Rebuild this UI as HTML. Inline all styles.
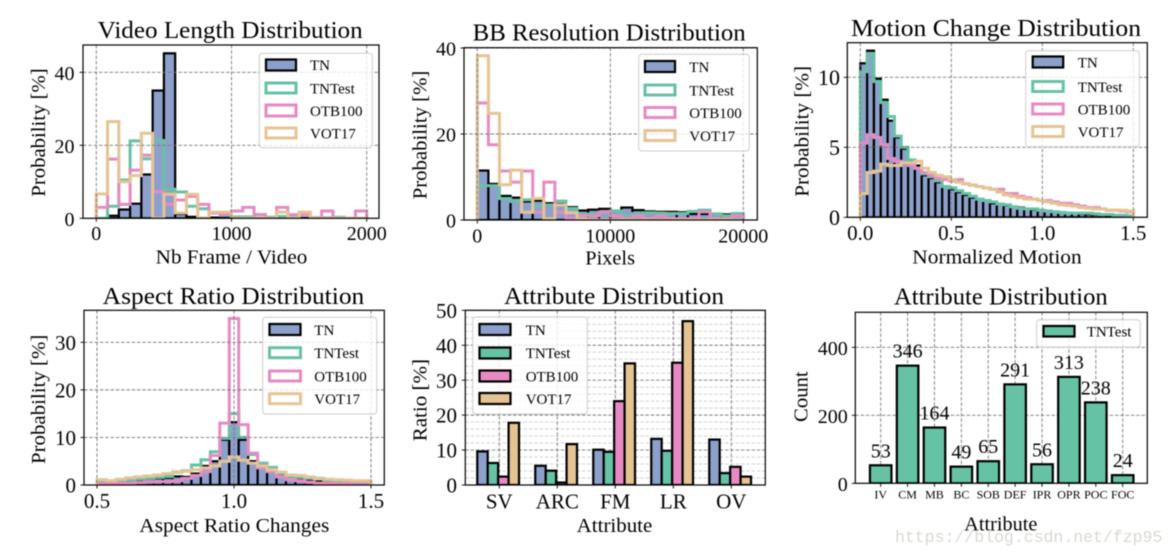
<!DOCTYPE html>
<html lang="en">
<head>
<meta charset="utf-8">
<title>Dataset distribution charts</title>
<style>
html,body{margin:0;padding:0;background:#fff;width:1175px;height:556px;overflow:hidden}
svg{display:block;font-family:"Liberation Serif",serif;fill:#000;filter:blur(.45px)}
.frame{fill:none;stroke:#000;stroke-width:1.2}
.lg-box{fill:#fff;fill-opacity:.8;stroke:#ccc;stroke-width:1}
.lg-text{font-size:15px;fill:#000}
.title{font-size:24px}
.axis-label{font-size:19.5px}
.p-tn{fill:#8da0cb;stroke:#000;stroke-width:2.2}
.p-tnt{fill:none;stroke:#66c2a5;stroke-width:3}
.p-otb{fill:none;stroke:#e78ac3;stroke-width:3}
.p-vot{fill:none;stroke:#e5c494;stroke-width:3}
.f-tnt{fill:#66c2a5;stroke:#000;stroke-width:2.2}
.f-otb{fill:#e78ac3;stroke:#000;stroke-width:2.2}
.f-vot{fill:#e5c494;stroke:#000;stroke-width:2.2}
.watermark{font-family:"Liberation Mono",monospace;font-size:16.5px;fill:#cfcfc6;fill-opacity:.8}
</style>
</head>
<body>
<svg id="fig" width="1175" height="556" viewBox="0 0 1175 556" xmlns="http://www.w3.org/2000/svg">
<defs>
<clipPath id="clip1"><rect x="83" y="45" width="296" height="173.3"/></clipPath>
<clipPath id="clip2"><rect x="464" y="47.7" width="293.3" height="172.3"/></clipPath>
<clipPath id="clip3"><rect x="847.3" y="42.7" width="300" height="174.6"/></clipPath>
<clipPath id="clip4"><rect x="84" y="310.3" width="300.3" height="174.7"/></clipPath>
<clipPath id="clip5"><rect x="465.3" y="310.3" width="300" height="174.7"/></clipPath>
<clipPath id="clip6"><rect x="855.3" y="312.3" width="292" height="171"/></clipPath>
</defs>

<g>
<g id="plot1" clip-path="url(#clip1)"></g>
<rect class="frame" x="83" y="45" width="296" height="173.3"/>
<g id="ticks1"></g>
<text class="title" x="97.7" y="38" textLength="265" lengthAdjust="spacingAndGlyphs">Video Length Distribution</text>
<text class="axis-label" x="155.7" y="263.3" textLength="151.6" lengthAdjust="spacingAndGlyphs">Nb Frame / Video</text>
<text class="axis-label" transform="translate(45,196.7) rotate(-90)" textLength="128.4" lengthAdjust="spacingAndGlyphs">Probability [%]</text>
<g>
<rect class="lg-box" x="259.3" y="53.3" width="113" height="94.4" rx="3"/>
<rect class="p-tn" x="266" y="59.5" width="30" height="11"/><text class="lg-text" x="310" y="70">TN</text>
<rect class="p-tnt" x="266" y="83" width="30" height="10"/><text class="lg-text" x="310" y="93.5">TNTest</text>
<rect class="p-otb" x="266" y="105" width="30" height="11"/><text class="lg-text" x="310" y="116">OTB100</text>
<rect class="p-vot" x="266" y="128" width="30" height="10"/><text class="lg-text" x="310" y="138.5">VOT17</text>
</g>
</g>

<g>
<g id="plot2" clip-path="url(#clip2)"></g>
<rect class="frame" x="464" y="47.7" width="293.3" height="172.3"/>
<g id="ticks2"></g>
<text class="title" x="472.7" y="40.7" textLength="273" lengthAdjust="spacingAndGlyphs">BB Resolution Distribution</text>
<text class="axis-label" x="585.3" y="264.3" textLength="49.7" lengthAdjust="spacingAndGlyphs">Pixels</text>
<text class="axis-label" transform="translate(426.7,199.3) rotate(-90)" textLength="128.6" lengthAdjust="spacingAndGlyphs">Probability [%]</text>
<g>
<rect class="lg-box" x="638.7" y="54.3" width="110.6" height="96.7" rx="3"/>
<rect class="p-tn" x="645" y="61" width="30" height="11"/><text class="lg-text" x="689.3" y="72">TN</text>
<rect class="p-tnt" x="645" y="85" width="30" height="10"/><text class="lg-text" x="689.3" y="95.5">TNTest</text>
<rect class="p-otb" x="645" y="107.5" width="30" height="10"/><text class="lg-text" x="689.3" y="118">OTB100</text>
<rect class="p-vot" x="645" y="130.5" width="30" height="10"/><text class="lg-text" x="689.3" y="141">VOT17</text>
</g>
</g>

<g>
<g id="plot3" clip-path="url(#clip3)"></g>
<rect class="frame" x="847.3" y="42.7" width="300" height="174.6"/>
<g id="ticks3"></g>
<text class="title" x="851" y="36" textLength="290" lengthAdjust="spacingAndGlyphs">Motion Change Distribution</text>
<text class="axis-label" x="912.3" y="263.3" textLength="169.4" lengthAdjust="spacingAndGlyphs">Normalized Motion</text>
<text class="axis-label" transform="translate(808.3,196.7) rotate(-90)" textLength="130.7" lengthAdjust="spacingAndGlyphs">Probability [%]</text>
<g>
<rect class="lg-box" x="1025.7" y="50.7" width="113.6" height="96" rx="3"/>
<rect class="p-tn" x="1032.7" y="56.5" width="30.5" height="11"/><text class="lg-text" x="1077.7" y="67.5">TN</text>
<rect class="p-tnt" x="1032.7" y="81.5" width="30.5" height="10"/><text class="lg-text" x="1077.7" y="92">TNTest</text>
<rect class="p-otb" x="1032.7" y="104" width="30.5" height="10"/><text class="lg-text" x="1077.7" y="114.5">OTB100</text>
<rect class="p-vot" x="1032.7" y="126.5" width="30.5" height="10"/><text class="lg-text" x="1077.7" y="137">VOT17</text>
</g>
</g>

<g>
<g id="plot4" clip-path="url(#clip4)"></g>
<rect class="frame" x="84" y="310.3" width="300.3" height="174.7"/>
<g id="ticks4"></g>
<text class="title" x="102.7" y="304" textLength="261.6" lengthAdjust="spacingAndGlyphs">Aspect Ratio Distribution</text>
<text class="axis-label" x="139.3" y="532" textLength="190" lengthAdjust="spacingAndGlyphs">Aspect Ratio Changes</text>
<text class="axis-label" transform="translate(45,464) rotate(-90)" textLength="129.3" lengthAdjust="spacingAndGlyphs">Probability [%]</text>
<g>
<rect class="lg-box" x="262.7" y="317.3" width="114" height="96.7" rx="3"/>
<rect class="p-tn" x="269.5" y="324" width="31" height="11"/><text class="lg-text" x="314.3" y="335">TN</text>
<rect class="p-tnt" x="269.5" y="347.7" width="31" height="10"/><text class="lg-text" x="314.3" y="358">TNTest</text>
<rect class="p-otb" x="269.5" y="371" width="31" height="10"/><text class="lg-text" x="314.3" y="381.5">OTB100</text>
<rect class="p-vot" x="269.5" y="393.7" width="31" height="10"/><text class="lg-text" x="314.3" y="404">VOT17</text>
</g>
</g>

<g>
<g id="plot5" clip-path="url(#clip5)"></g>
<rect class="frame" x="465.3" y="310.3" width="300" height="174.7"/>
<g id="ticks5"></g>
<text class="title" x="504" y="304" textLength="220" lengthAdjust="spacingAndGlyphs">Attribute Distribution</text>
<text class="axis-label" x="576.7" y="532" textLength="75.6" lengthAdjust="spacingAndGlyphs">Attribute</text>
<text class="axis-label" transform="translate(426.7,441.3) rotate(-90)" textLength="82.3" lengthAdjust="spacingAndGlyphs">Ratio [%]</text>
<g>
<rect class="lg-box" x="472.7" y="317" width="114.6" height="97" rx="3"/>
<rect class="p-tn" x="479.5" y="324" width="31" height="11"/><text class="lg-text" x="525.7" y="335">TN</text>
<rect class="f-tnt" x="479.5" y="347.5" width="31" height="11"/><text class="lg-text" x="525.7" y="358">TNTest</text>
<rect class="f-otb" x="479.5" y="370.5" width="31" height="11"/><text class="lg-text" x="525.7" y="381.5">OTB100</text>
<rect class="f-vot" x="479.5" y="393" width="31" height="11"/><text class="lg-text" x="525.7" y="404">VOT17</text>
</g>
</g>

<g>
<g id="plot6" clip-path="url(#clip6)"></g>
<rect class="frame" x="855.3" y="312.3" width="292" height="171"/>
<g id="ticks6"></g>
<text class="title" x="894" y="304.7" textLength="213.7" lengthAdjust="spacingAndGlyphs">Attribute Distribution</text>
<text class="axis-label" x="964.3" y="530.7" textLength="73" lengthAdjust="spacingAndGlyphs">Attribute</text>
<text class="axis-label" transform="translate(807.7,422) rotate(-90)" textLength="50.7" lengthAdjust="spacingAndGlyphs">Count</text>
<g>
<rect class="lg-box" x="1036.7" y="319.7" width="103.6" height="27.3" rx="3"/>
<rect class="f-tnt" x="1043.5" y="326" width="31" height="10.5"/><text class="lg-text" x="1086.7" y="336.5">TNTest</text>
</g>
</g>

<text class="watermark" x="895" y="542">https://blog.csdn.net/fzp95</text>
</svg>

<script>
// ---- Video length histogram ----
const videoBinRange = [0, 2000];
const videoXTicks = [0, 1000, 2000];
const videoXTickLabels = ['0', '1000', '2000'];
const videoYTicks = [0, 20, 40];
const videoYTickLabels = ['0', '20', '40'];
const videoTN = [0,.7,2.4,4,12,35,45.2,1.2,.4,.1,.2,.2,.1,.1,.1,.1,.1,.1,.1,0,0,0,0,0];
const videoTNTest = [0,3.3,10.5,21.2,16.3,21.3,8,7.2,3.3,2.6,1.5,.8,.4,.4,1,.3,.5,.2,1,.2,.2,.3,0,0];
const videoOTB = [3,16.2,3.8,13.2,17.3,7.3,3.8,5,6,3.8,1.5,1,2,3,1,0,3,1,1,0,2,0,0,2];
const videoVOT = [6.7,26.5,10,11.7,23.3,0,6.6,1.5,6.6,0,1.7,1.7,0,0,0,0,1.7,0,1.7,0,0,0,0,0];

// ---- BB resolution histogram ----
const bbBinRange = [0, 20000];
const bbXTicks = [0, 10000, 20000];
const bbXTickLabels = ['0', '10000', '20000'];
const bbYTicks = [0, 20, 40];
const bbYTickLabels = ['0', '20', '40'];
const bbTN = [11.5,8.4,5.6,5.2,4.3,4.5,3.9,3.7,3,2.2,2.4,2.6,2.2,2.9,2.3,2,1.9,1.9,1.8,1.4,1.4,1.5,1.3,1.5];
const bbTNTest = [8,8,5,4.3,4.7,3.2,3.5,4.4,2.7,1.3,1.4,1.6,2.1,1,1.5,1.7,1.6,1.5,1.5,2,2.3,1.4,1,1.5];
const bbOTB = [27.2,17.5,11.4,8.8,11.4,1.8,8.8,1.8,.4,1,1,1.9,1,.3,.9,.3,.9,.3,.3,.3,1.9,.3,.3,1];
const bbVOT = [38.2,24.8,8.2,11.6,1.8,5,.3,3.5,1.7,.2,0,0,0,0,0,0,0,0,0,0,0,0,0,0];

// ---- Motion change histogram ----
const motionBinRange = [0, 1.5];
const motionXTicks = [0, .5, 1, 1.5];
const motionXTickLabels = ['0.0', '0.5', '1.0', '1.5'];
const motionYTicks = [0, 5, 10];
const motionYTickLabels = ['0', '5', '10'];
const motionTN = [11,11.9,9.9,8.4,6.9,5.7,4.9,4,3.7,3,2.8,2.5,2.2,2,1.8,1.6,1.4,1.3,1.2,1,.95,.85,.75,.7,.6,.55,.5,.45,.4,.36,.32,.3,.25,.22,.2,.18,.16,.14,.12,.1];
const motionTNTest = [10.4,11.7,9.7,8.2,7.2,5.8,5,4.1,3.5,3.1,2.9,2.6,2.2,2.1,1.9,1.7,1.5,1.3,1.2,1.1,.95,.9,.75,.65,.6,.6,.5,.45,.4,.35,.3,.3,.3,.3,.25,.2,.2,.15,.15,.1];
const motionOTB = [5.3,5.9,5.7,5.2,4.2,4,3.9,3.7,3.5,3.2,3,2.8,2.7,2.6,2.7,2.4,2.3,2.2,2.1,2,2,1.7,1.7,1.5,1.4,1.3,1.2,1.2,1.1,1,1,.9,.8,.7,.7,.6,.5,.5,.45,.4];
const motionVOT = [1.7,3.2,3.3,3.8,3.7,3.7,3.9,3.9,4,3.5,3.2,3,2.9,2.7,2.5,2.4,2.3,2.2,2.1,2,1.8,1.6,1.5,1.4,1.3,1.3,1.2,1.1,1,.9,.85,.8,.7,.65,.6,.6,.5,.5,.5,.45];

// ---- Aspect ratio histogram ----
const aspectBinRange = [.5, 1.5];
const aspectXTicks = [.5, 1, 1.5];
const aspectXTickLabels = ['0.5', '1.0', '1.5'];
const aspectYTicks = [0, 10, 20, 30];
const aspectYTickLabels = ['0', '10', '20', '30'];
const aspectTN = [.2,.3,.4,.7,1,1.3,1.4,1.5,1.8,1.7,2.4,4,5,9.5,13.2,9.5,5,4,3.3,2.4,1.7,1.3,1,.8,.6,.4,.3,.2,.2];
const aspectTNTest = [.7,.5,.8,1,1.2,1.4,1.6,1.8,2.7,3,4.2,5.3,7,9.8,15,10,6.4,4.6,3.7,2.5,1.8,1.6,1.4,1.4,1,.7,.5,.4,.3];
const aspectOTB = [.3,.3,.4,.4,.5,.6,.7,.7,.9,1.4,2,2.8,6.2,13,35,12.7,6.7,3.6,2.8,1.7,1.1,.9,.6,.4,.4,.3,.3,.2,.2];
const aspectVOT = [1.1,.9,1.2,1.5,1.7,1.9,2.1,2.4,2.8,2.9,3.2,3.6,4,5,5.9,5.2,4.6,4,3.2,2.7,2.1,2,1.7,1.3,1.2,1.1,1,.9,.9];

// ---- Attribute ratio grouped bars ----
const ratioCategories = ['SV', 'ARC', 'FM', 'LR', 'OV'];
const ratioYTicks = [0, 10, 20, 30, 40, 50];
const ratioYTickLabels = ['0', '10', '20', '30', '40', '50'];
const ratioYMinorTicks = [2,4,6,8,12,14,16,18,22,24,26,28,32,34,36,38,42,44,46,48];
const ratioTN = [9.6, 5.5, 10.1, 13.2, 13];
const ratioTNTest = [6.3, 4.1, 9.5, 9.8, 3.4];
const ratioOTB = [2.4, .7, 24, 35, 5.2];
const ratioVOT = [17.8, 11.7, 34.8, 46.9, 2.4];

// ---- Attribute count bars ----
const countCategories = ['IV', 'CM', 'MB', 'BC', 'SOB', 'DEF', 'IPR', 'OPR', 'POC', 'FOC'];
const countValues = [53, 346, 164, 49, 65, 291, 56, 313, 238, 24];
const countYTicks = [0, 200, 400];
const countYTickLabels = ['0', '200', '400'];

const SVG_NS = 'http://www.w3.org/2000/svg';
const BLACK = '#000';
const COLORS = {tn: '#8da0cb', tnt: '#66c2a5', otb: '#e78ac3', vot: '#e5c494'};

function scale(d0, d1, r0, r1) {
  return function (v) { return r0 + (v - d0) * (r1 - r0) / (d1 - d0); };
}
function make(parent, tag, attrs) {
  const el = document.createElementNS(SVG_NS, tag);
  for (const k in attrs) el.setAttribute(k, attrs[k]);
  parent.appendChild(el);
  return el;
}
function gridLine(parent, x1, y1, x2, y2, color, dash) {
  const el = make(parent, 'line', {x1: x1, y1: y1, x2: x2, y2: y2, stroke: color, 'stroke-width': .9, 'stroke-dasharray': dash});
  
  
}
function drawGrid(plot, box, xs, ys) {
  xs.forEach(function (x) { gridLine(plot, x, box.top, x, box.bottom, '#777', '3.5 1.8'); });
  ys.forEach(function (y) { gridLine(plot, box.left, y, box.right, y, '#777', '3.5 1.8'); });
}
function drawTicks(group, box, xs, xLabels, ys, yLabels, opt) {
  xs.forEach(function (x, i) {
    const tick = make(group, 'line', {x1: x, y1: box.bottom, x2: x, y2: box.bottom + 3.5, stroke: BLACK, 'stroke-width': .9});
    
    
    const label = make(group, 'text', {x: x, y: opt.xBase, 'text-anchor': 'middle', 'font-size': opt.xSize});
    
    
    label.textContent = xLabels[i];
  });
  ys.forEach(function (y, i) {
    const tick = make(group, 'line', {x1: box.left - 3.5, y1: y, x2: box.left, y2: y, stroke: BLACK, 'stroke-width': .9});
    
    
    const label = make(group, 'text', {x: opt.yRight, y: y + 7.6, 'text-anchor': 'end', 'font-size': opt.ySize});
    
    
    label.textContent = yLabels[i];
  });
}
function drawHistBars(plot, values, range, x, y) {
  const w = (range[1] - range[0]) / values.length;
  values.forEach(function (v, i) {
    const x0 = x(range[0] + i * w), x1 = x(range[0] + (i + 1) * w);
    const bar = make(plot, 'rect', {x: x0, y: y(v), width: x1 - x0, height: y(0) - y(v), fill: COLORS.tn, stroke: BLACK, 'stroke-width': 2.2});
    
    
  });
}
function drawHistStep(plot, values, range, x, y, color, name) {
  const w = (range[1] - range[0]) / values.length;
  let d = 'M' + x(range[0]) + ' ' + y(0);
  values.forEach(function (v, i) {
    d += 'V' + y(v) + 'H' + x(range[0] + (i + 1) * w);
  });
  d += 'V' + y(0);
  const path = make(plot, 'path', {d: d, fill: 'none', stroke: color, 'stroke-width': 3});
  
  
}
function histogramChart(n, box, range, x, y, tn, tnt, otb, vot, xTicks, xLabels, yTicks, yLabels, opt) {
  const plot = document.getElementById('plot' + n);
  const ticks = document.getElementById('ticks' + n);
  drawHistBars(plot, tn, range, x, y);
  drawHistStep(plot, tnt, range, x, y, COLORS.tnt, 'tntest-histogram-outline');
  drawHistStep(plot, otb, range, x, y, COLORS.otb, 'otb100-histogram-outline');
  drawHistStep(plot, vot, range, x, y, COLORS.vot, 'vot17-histogram-outline');
  drawGrid(plot, box, xTicks.map(x), yTicks.map(y));
  drawTicks(ticks, box, xTicks.map(x), xLabels, yTicks.map(y), yLabels, opt);
}

histogramChart(1, {left: 83, right: 379, top: 45, bottom: 218.3}, videoBinRange,
  scale(0, 2000, 96.3, 366.7), scale(0, 40, 218.3, 72.3),
  videoTN, videoTNTest, videoOTB, videoVOT,
  videoXTicks, videoXTickLabels, videoYTicks, videoYTickLabels,
  {xBase: 240, xSize: 20, yRight: 74.5, ySize: 20});

histogramChart(2, {left: 464, right: 757.3, top: 47.7, bottom: 220}, bbBinRange,
  scale(0, 20000, 477.3, 743.3), scale(0, 40, 220, 48),
  bbTN, bbTNTest, bbOTB, bbVOT,
  bbXTicks, bbXTickLabels, bbYTicks, bbYTickLabels,
  {xBase: 242.7, xSize: 20, yRight: 456, ySize: 20});

histogramChart(3, {left: 847.3, right: 1147.3, top: 42.7, bottom: 217.3}, motionBinRange,
  scale(0, 1.5, 860.3, 1133.3), scale(0, 10, 217.3, 77.3),
  motionTN, motionTNTest, motionOTB, motionVOT,
  motionXTicks, motionXTickLabels, motionYTicks, motionYTickLabels,
  {xBase: 240, xSize: 21, yRight: 840, ySize: 22});

histogramChart(4, {left: 84, right: 384.3, top: 310.3, bottom: 485}, aspectBinRange,
  scale(.5, 1.5, 97, 371), scale(0, 30, 485, 342.3),
  aspectTN, aspectTNTest, aspectOTB, aspectVOT,
  aspectXTicks, aspectXTickLabels, aspectYTicks, aspectYTickLabels,
  {xBase: 508, xSize: 21, yRight: 76, ySize: 21});

(function ratioChart() {
  const box = {left: 465.3, right: 765.3, top: 310.3, bottom: 485};
  const plot = document.getElementById('plot5');
  const ticks = document.getElementById('ticks5');
  const x = scale(0, 4, 499.3, 731.3);
  const y = scale(0, 50, 485, 310.3);
  const groups = [ratioTN, ratioTNTest, ratioOTB, ratioVOT];
  const fills = [COLORS.tn, COLORS.tnt, COLORS.otb, COLORS.vot];
  const barUnit = .18;
  ratioYMinorTicks.forEach(function (t) {
    gridLine(plot, box.left, y(t), box.right, y(t), '#ccc', '3.5 1.8');
  });
  drawGrid(plot, box, ratioCategories.map(function (c, i) { return x(i); }), ratioYTicks.map(y));
  groups.forEach(function (series, s) {
    series.forEach(function (v, i) {
      const left = x(i - .02 + (s - 2) * barUnit), right = x(i - .02 + (s - 1) * barUnit);
      const bar = make(plot, 'rect', {x: left, y: y(v), width: right - left, height: y(0) - y(v), fill: fills[s], stroke: BLACK, 'stroke-width': 2.2});
      
      
    });
  });
  drawTicks(ticks, box, ratioCategories.map(function (c, i) { return x(i); }), ratioCategories, ratioYTicks.map(y), ratioYTickLabels,
    {xBase: 508.7, xSize: 21, yRight: 457, ySize: 21});
})();

(function countChart() {
  const box = {left: 855.3, right: 1147.3, top: 312.3, bottom: 483.3};
  const plot = document.getElementById('plot6');
  const ticks = document.getElementById('ticks6');
  const x = scale(0, 9, 880.7, 1122.7);
  const y = scale(0, 400, 483.3, 347.3);
  const xs = countCategories.map(function (c, i) { return x(i); });
  drawGrid(plot, box, xs, countYTicks.map(y));
  countValues.forEach(function (v, i) {
    const left = x(i - .4), right = x(i + .4);
    const bar = make(plot, 'rect', {x: left, y: y(v), width: right - left, height: y(0) - y(v), fill: COLORS.tnt, stroke: BLACK, 'stroke-width': 2.2});
    
    
    const label = make(ticks, 'text', {x: x(i), y: y(v) - 8, 'text-anchor': 'middle', 'font-size': 20});
    
    
    label.textContent = countValues[i];
  });
  drawTicks(ticks, box, xs, countCategories, countYTicks.map(y), countYTickLabels,
    {xBase: 498.7, xSize: 12, yRight: 847.7, ySize: 20});
})();
</script>
</body>
</html>
